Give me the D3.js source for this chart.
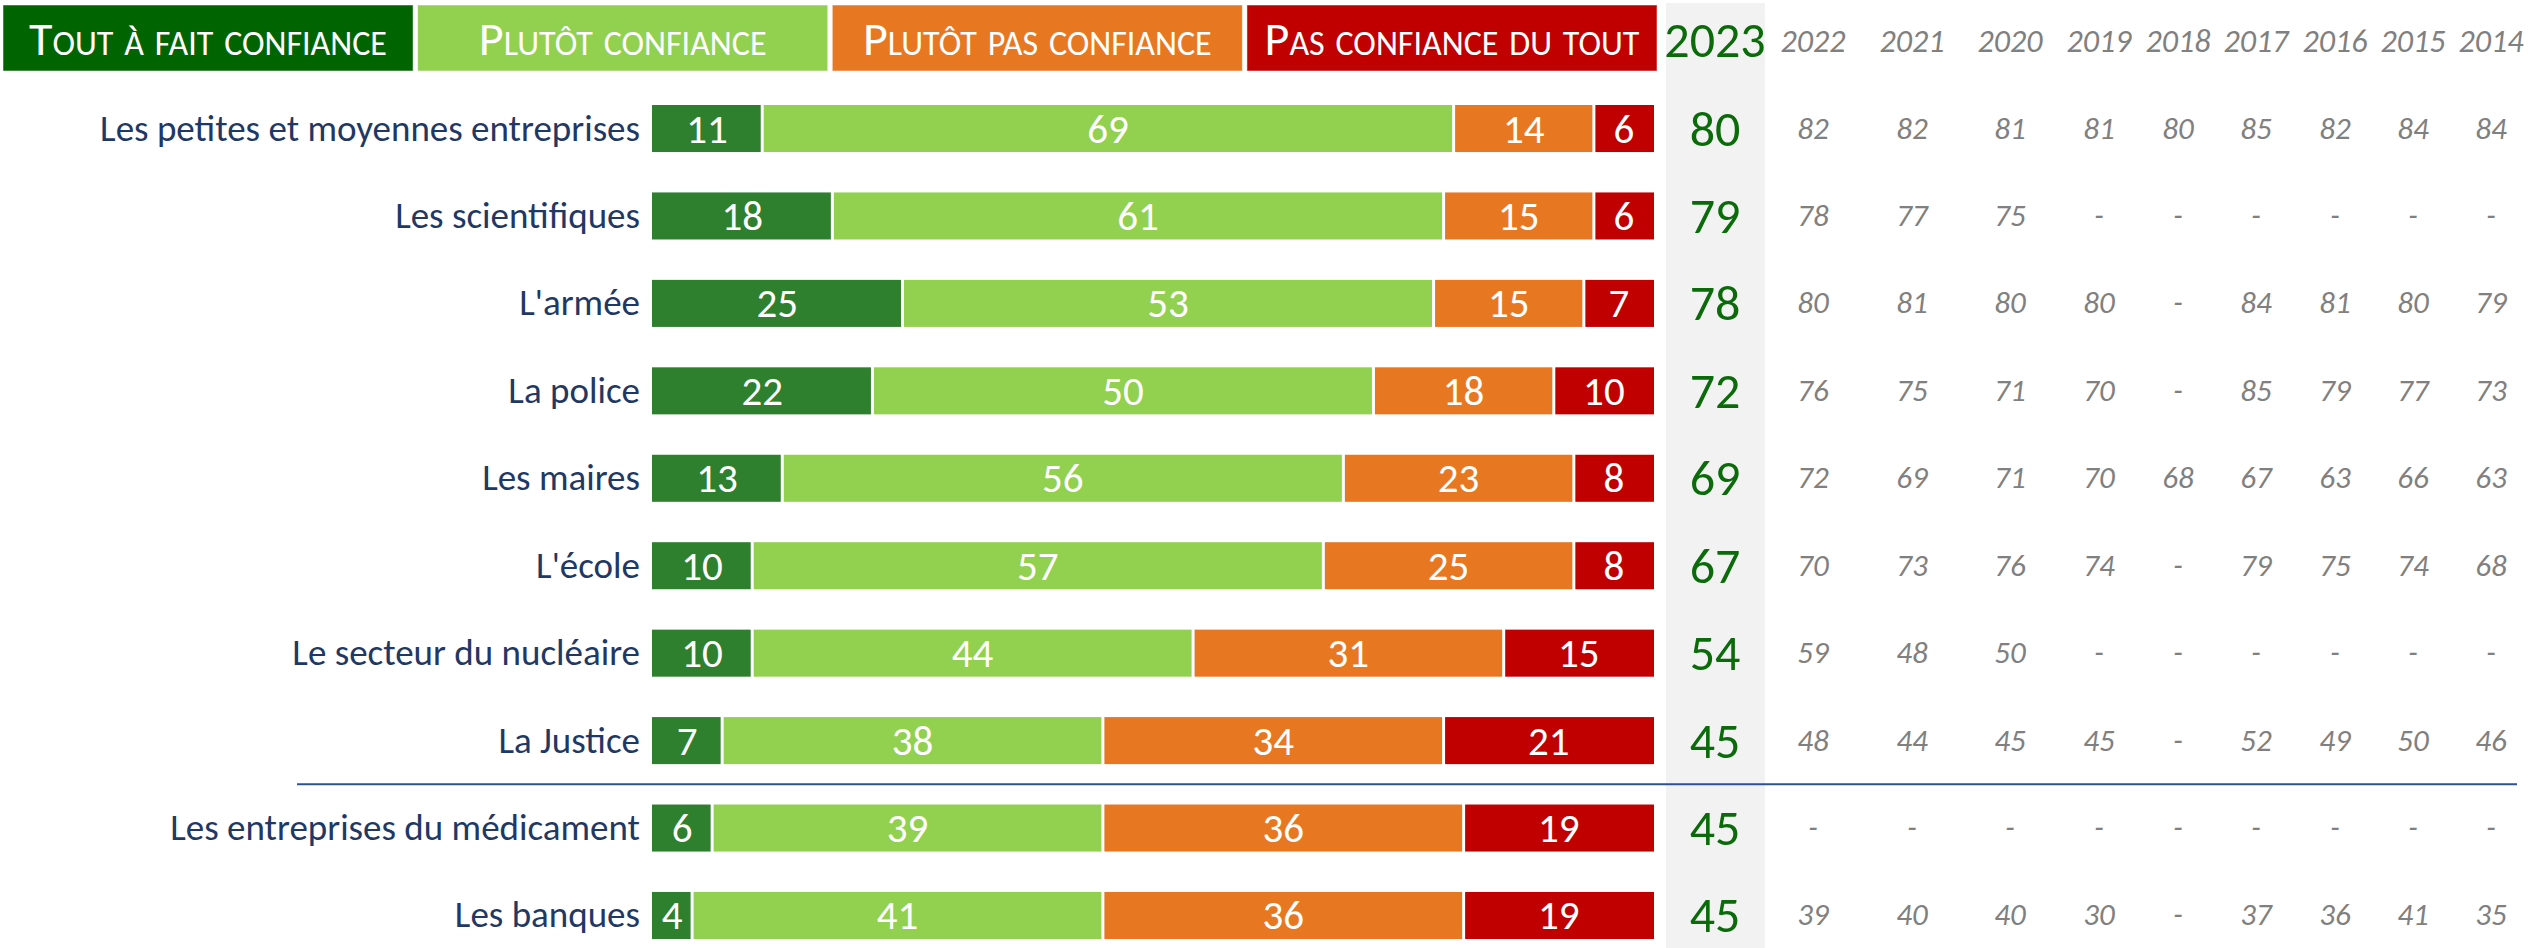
<!DOCTYPE html>
<html><head><meta charset="utf-8">
<script src="https://cdn.jsdelivr.net/npm/d3@7"></script>
<style>
body{margin:0;background:#fff;}
text{font-family:Carlito,Calibri,sans-serif;}
</style></head>
<body><svg id="chart" width="2532" height="948"></svg>
<script>
// ---------- DATA ----------
const categories = [
  "Les petites et moyennes entreprises",
  "Les scientifiques",
  "L'armée",
  "La police",
  "Les maires",
  "L'école",
  "Le secteur du nucléaire",
  "La Justice",
  "Les entreprises du médicament",
  "Les banques"
];
const seriesNames = ["Tout à fait confiance","Plutôt confiance","Plutôt pas confiance","Pas confiance du tout"];
const toutAFait   = [11,18,25,22,13,10,10,7,6,4];
const plutot      = [69,61,53,50,56,57,44,38,39,41];
const plutotPas   = [14,15,15,18,23,25,31,34,36,36];
const pasDuTout   = [6,6,7,10,8,8,15,21,19,19];
const total2023   = [80,79,78,72,69,67,54,45,45,45];
const currentYear = "2023";
const pastYears   = ["2022","2021","2020","2019","2018","2017","2016","2015","2014"];
const history = [
  ["82","82","81","81","80","85","82","84","84"],
  ["78","77","75","-","-","-","-","-","-"],
  ["80","81","80","80","-","84","81","80","79"],
  ["76","75","71","70","-","85","79","77","73"],
  ["72","69","71","70","68","67","63","66","63"],
  ["70","73","76","74","-","79","75","74","68"],
  ["59","48","50","-","-","-","-","-","-"],
  ["48","44","45","45","-","52","49","50","46"],
  ["-","-","-","-","-","-","-","-","-"],
  ["39","40","40","30","-","37","36","41","35"]
];
const separatorAfter = "La Justice";

// ---------- STYLE ----------
const barColors    = ["#2E7F2E","#92D050","#E87722","#C00000"];
const legendColors = ["#006400","#92D050","#E87722","#C00000"];
const green = "#0B6B0B", grey = "#808080", navy = "#1F3864";

const svg = d3.select("#chart");
const W = 2532, H = 948;

const x = d3.scaleLinear().domain([0,100]).range([652,1654]);
const y = d3.scaleBand().domain(categories).range([105,939]).paddingInner(0.462).paddingOuter(0);
const legendX = d3.scaleBand().domain(seriesNames).range([3,1657]).paddingInner(0.011);
const yearX = d3.scaleOrdinal().domain(pastYears).range([1813,1912,2010,2099,2178,2256,2335,2413,2491]);
const curX = 1715;

// 2023 shaded column
svg.append("rect").attr("x",1666).attr("y",3).attr("width",99).attr("height",H-3).attr("fill","#F2F2F2");

// Legend
const lg = svg.append("g").selectAll("g").data(seriesNames).join("g");
lg.append("rect")
  .attr("x",d=>legendX(d)).attr("y",5).attr("width",legendX.bandwidth()).attr("height",66)
  .attr("fill",(d,i)=>legendColors[i]).attr("stroke","#ffffff").attr("stroke-opacity",0.5).attr("stroke-width",1);
lg.append("text")
  .attr("x",d=>legendX(d)+legendX.bandwidth()/2).attr("y",55)
  .attr("text-anchor","middle").attr("fill","#fff").attr("font-size",48)
  .style("font-variant","small-caps").text(d=>d);

// Stack
const rows = categories.map((c,i)=>{
  const vals=[toutAFait[i],plutot[i],plutotPas[i],pasDuTout[i]];
  let acc=0;
  return vals.map((v,k)=>{const s={cat:c,k,v,x0:acc,x1:acc+v};acc+=v;return s;});
});

const barG = svg.append("g");
rows.forEach(segs=>{
  const g = barG.append("g");
  g.selectAll("rect").data(segs).join("rect")
    .attr("x",d=>x(d.x0)+(d.k>0?1.5:0))
    .attr("width",d=>x(d.x1)-x(d.x0)-(d.k>0?1.5:0)-(d.k<3?1.5:0))
    .attr("y",d=>y(d.cat)).attr("height",y.bandwidth())
    .attr("fill",d=>barColors[d.k]);
  g.selectAll("text").data(segs).join("text")
    .attr("x",d=>(x(d.x0)+x(d.x1))/2).attr("y",d=>y(d.cat)+y.bandwidth()/2+14)
    .attr("text-anchor","middle").attr("fill","#fff").attr("font-size",41).text(d=>d.v);
});

// Category labels
svg.append("g").selectAll("text").data(categories).join("text")
  .attr("x",640).attr("y",d=>y(d)+y.bandwidth()/2+12)
  .attr("text-anchor","end").attr("fill",navy).attr("font-size",37).text(d=>d);

// Separator
const sepY = (y(separatorAfter)+y.bandwidth() + y(categories[categories.indexOf(separatorAfter)+1]))/2;
svg.append("line").attr("x1",297).attr("x2",2517).attr("y1",sepY).attr("y2",sepY)
  .attr("stroke","#2F528F").attr("stroke-width",2);

// 2023 header & values
svg.append("text").attr("x",curX).attr("y",57).attr("text-anchor","middle")
  .attr("fill",green).attr("font-size",50).text(currentYear);
svg.append("g").selectAll("text").data(categories).join("text")
  .attr("x",curX).attr("y",d=>y(d)+y.bandwidth()/2+17)
  .attr("text-anchor","middle").attr("fill",green).attr("font-size",50)
  .text((d,i)=>total2023[i]);

// Past-year headers
svg.append("g").selectAll("text").data(pastYears).join("text")
  .attr("x",d=>yearX(d)).attr("y",52).attr("text-anchor","middle")
  .attr("fill",grey).attr("font-size",32).attr("font-style","italic").text(d=>d);

// Past-year values
categories.forEach((c,i)=>{
  svg.append("g").selectAll("text").data(pastYears).join("text")
    .attr("x",d=>yearX(d)).attr("y",y(c)+y.bandwidth()/2+10)
    .attr("text-anchor","middle").attr("fill",grey).attr("font-size",31).attr("font-style","italic")
    .text((d,j)=>history[i][j]);
});
</script></body></html>
